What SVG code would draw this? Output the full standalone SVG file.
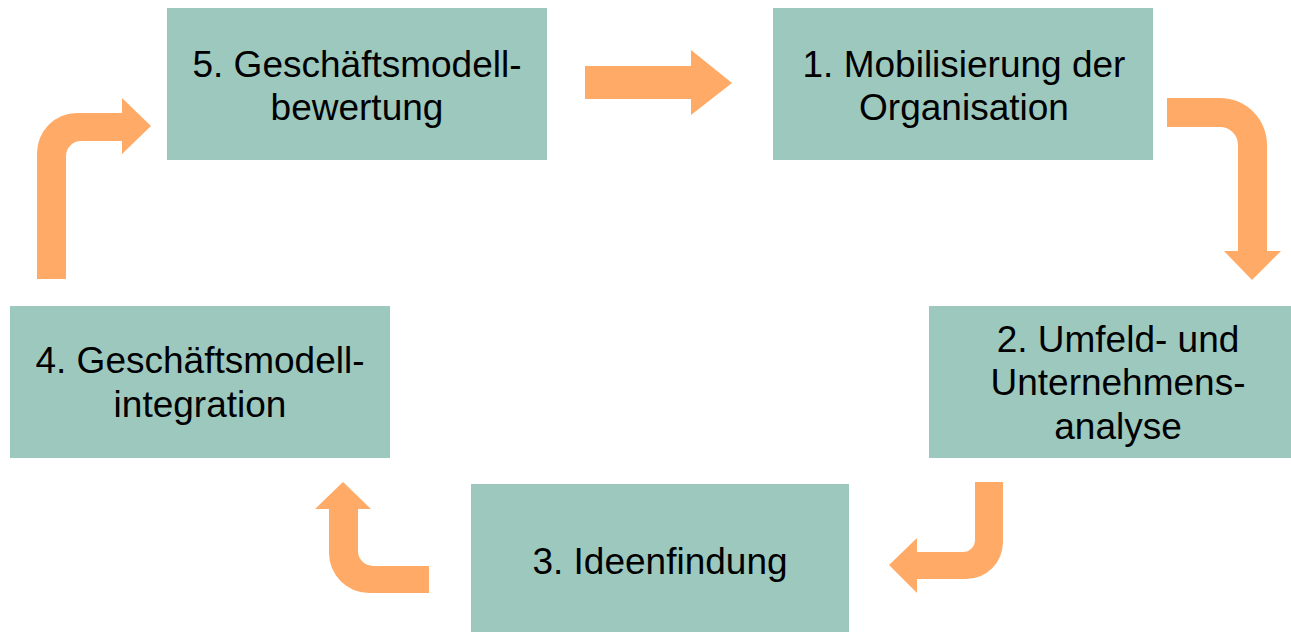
<svg xmlns="http://www.w3.org/2000/svg" width="1291" height="632" viewBox="0 0 1291 632">
<style>
.box{fill:#9DC8BE}
.lbl{font-family:"Liberation Sans",Arial,sans-serif;font-size:37px;fill:#000;text-anchor:middle}
.arr{fill:#FFAA66}
</style>
<rect width="1291" height="632" fill="#fff"/>
<g id="connectors">
<path class="arr" d="M585,66 H691 V50 L732,83 L691,115 V99 H585 Z"/>
<path class="arr" d="M1167,98 H1220 A47,47 0 0 1 1267,145 V251 H1281 L1252,280 L1224,251 H1238 V145 A18,18 0 0 0 1220,127 H1167 Z"/>
<path class="arr" d="M975,482 H1003 V542 A37,37 0 0 1 966,579 H917 V593 L889,565 L917,538 V552 H963 A12,12 0 0 0 975,540 Z"/>
<path class="arr" d="M429,566 V593 H369 A40,40 0 0 1 329,553 V509 H315 L343,482 L371,509 H358 V551 A15,15 0 0 0 373,566 Z"/>
<path class="arr" d="M37,279 V153 A40,40 0 0 1 77,113 H122 V98 L151,126 L122,154 V141 H81 A15,15 0 0 0 66,156 V279 Z"/>
</g>
<g id="node5">
<rect class="box" x="167" y="8" width="380" height="152"/>
<text class="lbl" x="357" y="77">5. Geschäftsmodell-</text>
<text class="lbl" x="357" y="120">bewertung</text>
</g>
<g id="node1">
<rect class="box" x="773" y="8" width="380" height="152"/>
<text class="lbl" x="964" y="77">1. Mobilisierung der</text>
<text class="lbl" x="964" y="120">Organisation</text>
</g>
<g id="node2">
<rect class="box" x="929" y="306" width="380" height="152"/>
<text class="lbl" x="1118" y="352">2. Umfeld- und</text>
<text class="lbl" x="1118" y="395">Unternehmens-</text>
<text class="lbl" x="1118" y="439">analyse</text>
</g>
<g id="node3">
<rect class="box" x="471" y="484" width="378" height="152"/>
<text class="lbl" x="660" y="574">3. Ideenfindung</text>
</g>
<g id="node4">
<rect class="box" x="10" y="306" width="380" height="152"/>
<text class="lbl" x="200" y="373">4. Geschäftsmodell-</text>
<text class="lbl" x="200" y="417">integration</text>
</g>
</svg>
